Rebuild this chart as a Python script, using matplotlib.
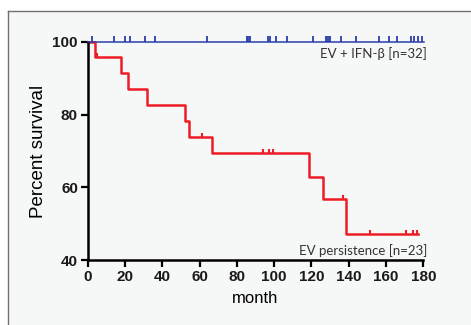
import matplotlib
matplotlib.use("Agg")
import matplotlib.pyplot as plt
from matplotlib.lines import Line2D

# EV persistence group: step curve (month, percent survival after the drop)
ev_times = [0, 3.9, 17.7, 21.5, 31.6, 52.2, 54.3, 66.9, 118.7, 126.2, 138.5]
ev_surv = [100, 95.7, 91.3, 87.0, 82.6, 78.3, 73.9, 69.5, 63.0, 56.7, 47.2]
ev_end = 177.3
ev_censor_t = [4.8, 61.3, 94.2, 97.1, 99.6, 137.1, 151.4, 170.7, 174.3, 176.8]

# EV + IFN-beta group: nobody died
ifn_end = 180.5
ifn_censor_t = [2.1, 14.3, 19.8, 22.5, 30.8, 36.2, 63.9, 85.3, 86.2, 87.1,
                96.9, 97.8, 101.0, 107.1, 120.6, 127.8, 128.9, 130.0, 135.6,
                143.7, 156.2, 161.5, 165.8, 173.2, 175.2, 177.4, 179.4]

x_ticks = [0, 20, 40, 60, 80, 100, 120, 140, 160, 180]
y_ticks = [40, 60, 80, 100]


def surv_at(t, times, surv):
    s = surv[0]
    for tt, ss in zip(times, surv):
        if tt <= t:
            s = ss
    return s


bg = '#f6f7f7'
fig = plt.figure(figsize=(4.71, 3.25), dpi=100)
fig.patch.set_facecolor('white')

# grey panel with frame on top and left
panel = plt.Rectangle((8 / 471, 0), 1, 1 - 11 / 325, transform=fig.transFigure,
                      facecolor=bg, edgecolor='none', zorder=-10)
fig.patches.append(panel)
fig.add_artist(Line2D([8 / 471, 1], [1 - 11 / 325, 1 - 11 / 325],
                      transform=fig.transFigure, color='#707070', lw=1, zorder=-9))
fig.add_artist(Line2D([8 / 471, 8 / 471], [0, 1 - 11 / 325],
                      transform=fig.transFigure, color='#707070', lw=1, zorder=-9))

ax = fig.add_axes([87.7 / 471, 1 - 260.3 / 325, (423.3 - 87.7) / 471,
                   (260.3 - 41.7) / 325])
ax.set_facecolor(bg)

# blue line
ax.plot([0, ifn_end], [100, 100], color='#2b3fa8', lw=1.1, clip_on=False, zorder=3)
ax.vlines(ifn_censor_t, 100, 101.6, color='#2b3fa8', lw=1.3, clip_on=False, zorder=3)

# red step curve
xs = ev_times + [ev_end]
ys = ev_surv + [ev_surv[-1]]
ax.step(xs, ys, where='post', color='#ee1c24', lw=1.8, clip_on=False, zorder=2)
ev_censor_s = [surv_at(t, ev_times, ev_surv) for t in ev_censor_t]
ax.vlines(ev_censor_t, ev_censor_s, [s + 1.1 for s in ev_censor_s],
          color='#ee1c24', lw=1.5, zorder=2)

ax.set_xlim(0, 180)
ax.set_ylim(40, 100)
ax.set_xticks(x_ticks)
ax.set_yticks(y_ticks)
for s in ['top', 'right']:
    ax.spines[s].set_visible(False)
for s in ['left', 'bottom']:
    ax.spines[s].set_linewidth(1.8)
    ax.spines[s].set_color('black')
ax.tick_params(width=1.6, length=5, labelsize=11, pad=2)
for lab in ax.get_xticklabels() + ax.get_yticklabels():
    lab.set_family('Liberation Sans')
    lab.set_fontweight('bold')
    lab.set_color('#1a1a1a')

ax.set_xlabel('month', fontsize=12, family='Liberation Sans', labelpad=5)
ax.set_ylabel('Percent survival', fontsize=13.5, family='Liberation Sans', labelpad=4)

ax.text(182, 96.8, 'EV + IFN-\u03b2 [n=32]', ha='right', va='center',
        fontsize=9.5, family='Lato', color='#333333')
ax.text(182, 42.8, 'EV persistence [n=23]', ha='right', va='center',
        fontsize=9.5, family='Lato', color='#333333')

fig.savefig('out.png', dpi=100, facecolor=fig.get_facecolor())
